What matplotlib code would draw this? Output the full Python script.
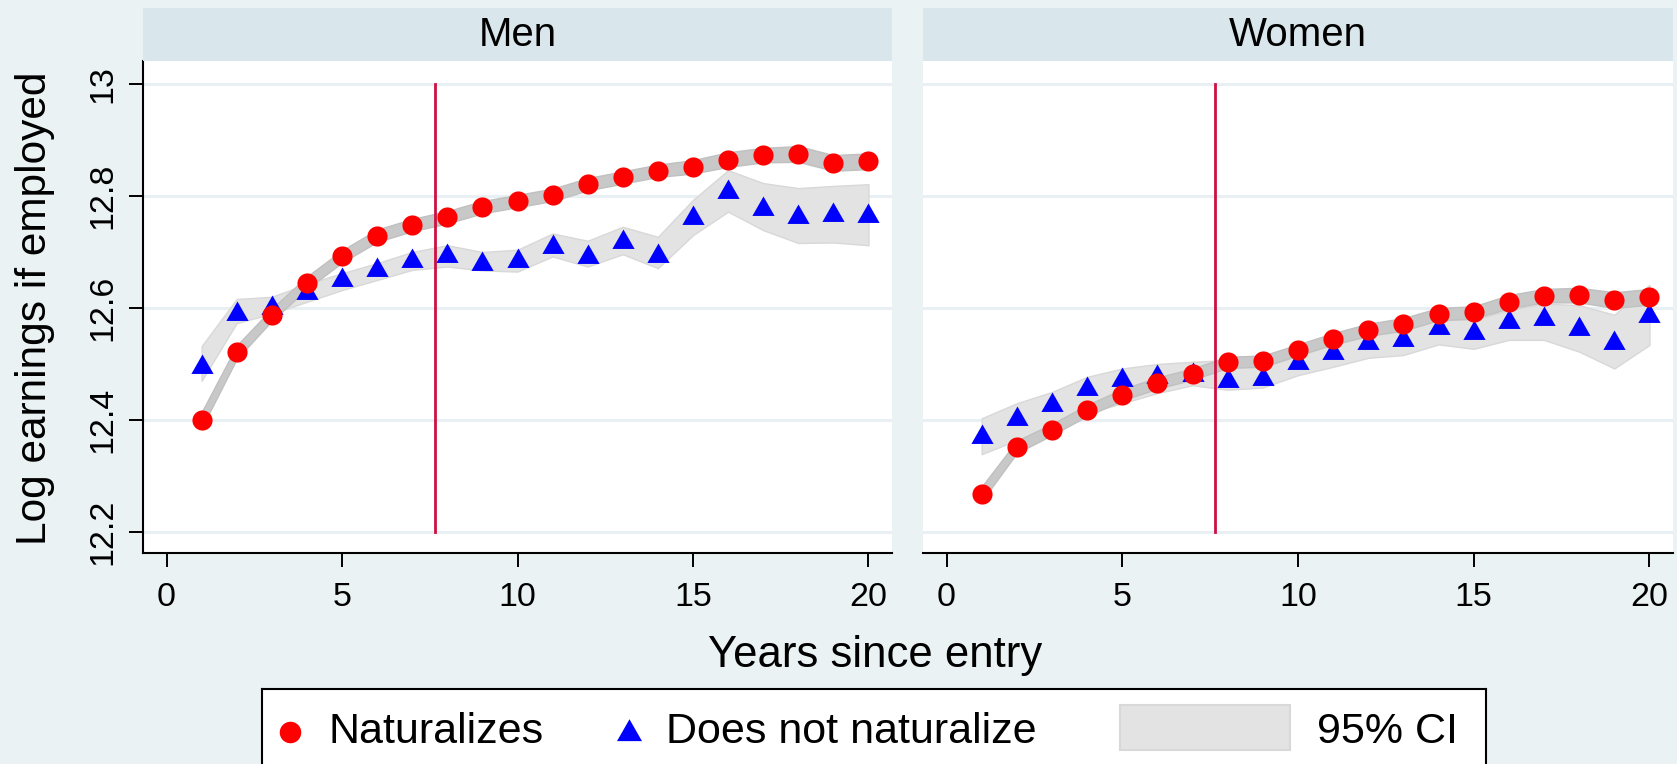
import numpy as np
import matplotlib
matplotlib.use("Agg")
from matplotlib import pyplot as plt
from matplotlib.patches import Rectangle

plt.rcParams['font.family'] = ['Liberation Sans', 'DejaVu Sans']

# years since entry
years = np.arange(1, 21)

# Men: log earnings if employed
men_nat = [12.400, 12.521, 12.588, 12.645, 12.692, 12.729, 12.748, 12.762, 12.780, 12.791,
           12.802, 12.821, 12.833, 12.845, 12.852, 12.865, 12.873, 12.875, 12.859, 12.862]
men_nat_lo = [12.386, 12.509, 12.577, 12.634, 12.681, 12.718, 12.737, 12.751, 12.769, 12.780,
              12.791, 12.810, 12.822, 12.834, 12.840, 12.852, 12.860, 12.861, 12.845, 12.848]
men_nat_hi = [12.414, 12.533, 12.599, 12.656, 12.703, 12.740, 12.759, 12.773, 12.791, 12.802,
              12.813, 12.832, 12.844, 12.856, 12.864, 12.878, 12.886, 12.889, 12.873, 12.876]
men_non = [12.500, 12.595, 12.605, 12.632, 12.656, 12.673, 12.690, 12.699, 12.684, 12.689,
           12.714, 12.697, 12.724, 12.699, 12.766, 12.812, 12.782, 12.768, 12.771, 12.770]
men_non_lo = [12.470, 12.573, 12.590, 12.611, 12.632, 12.650, 12.668, 12.674, 12.667, 12.665,
              12.692, 12.674, 12.696, 12.671, 12.730, 12.772, 12.739, 12.716, 12.717, 12.712]
men_non_hi = [12.532, 12.616, 12.620, 12.643, 12.662, 12.680, 12.700, 12.712, 12.700, 12.704,
              12.733, 12.720, 12.745, 12.727, 12.793, 12.846, 12.823, 12.814, 12.818, 12.821]

# Women
wom_nat = [12.268, 12.352, 12.383, 12.417, 12.445, 12.466, 12.482, 12.503, 12.505, 12.525,
           12.545, 12.561, 12.571, 12.589, 12.592, 12.611, 12.622, 12.623, 12.614, 12.620]
wom_nat_lo = [12.255, 12.341, 12.373, 12.407, 12.435, 12.456, 12.472, 12.493, 12.495, 12.515,
              12.535, 12.550, 12.560, 12.578, 12.581, 12.599, 12.610, 12.610, 12.600, 12.606]
wom_nat_hi = [12.281, 12.363, 12.393, 12.427, 12.455, 12.476, 12.492, 12.513, 12.515, 12.535,
              12.555, 12.572, 12.582, 12.600, 12.603, 12.623, 12.634, 12.636, 12.628, 12.634]
wom_non = [12.375, 12.408, 12.433, 12.460, 12.476, 12.482, 12.486, 12.475, 12.479, 12.507,
           12.525, 12.542, 12.548, 12.570, 12.561, 12.580, 12.585, 12.568, 12.542, 12.591]
wom_non_lo = [12.339, 12.364, 12.388, 12.412, 12.430, 12.448, 12.462, 12.454, 12.458, 12.480,
              12.495, 12.511, 12.516, 12.535, 12.527, 12.543, 12.543, 12.522, 12.492, 12.534]
wom_non_hi = [12.403, 12.430, 12.450, 12.477, 12.492, 12.500, 12.504, 12.507, 12.504, 12.519,
              12.534, 12.552, 12.558, 12.581, 12.579, 12.596, 12.608, 12.605, 12.588, 12.641]

# average years before naturalization
nat_year = 7.65

y_ticks = [12.2, 12.4, 12.6, 12.8, 13.0]
y_ticklabels = ['12.2', '12.4', '12.6', '12.8', '13']
x_ticks = [0, 5, 10, 15, 20]

bg = '#EAF2F3'
strip_col = '#D9E6EB'
grid_col = '#E8F0F3'
band_light = '#E3E3E3'
band_dark = '#C8C8C8'
vline_col = '#CC1040'

W, H = 1677, 764
fig = plt.figure(figsize=(W / 100, H / 100), dpi=100, facecolor=bg)

# triangle marker, a bit wider than tall
tri = [(-1, -0.85), (1, -0.85), (0, 0.9), (-1, -0.85)]

panels = [
    ("Men", 143, 892, men_nat, men_nat_lo, men_nat_hi, men_non, men_non_lo, men_non_hi),
    ("Women", 923, 1673, wom_nat, wom_nat_lo, wom_nat_hi, wom_non, wom_non_lo, wom_non_hi),
]

top_px, bot_px = 61, 553
for i, (title, x0, x1, nat, nat_lo, nat_hi, non, non_lo, non_hi) in enumerate(panels):
    ax = fig.add_axes([x0 / W, 1 - bot_px / H, (x1 - x0) / W, (bot_px - top_px) / H])
    ax.set_facecolor('white')
    ax.set_xlim(-0.67, 20.67)
    ax.set_ylim(12.1625, 13.041)

    ax.fill_between(years, non_lo, non_hi, color=band_light, ec='#D8D8D8', lw=1, zorder=2)
    ax.fill_between(years, nat_lo, nat_hi, color=band_dark, ec='#C0C0C0', lw=1, zorder=3)
    ax.plot([nat_year, nat_year], [12.2, 13.0], color=vline_col, lw=2, zorder=4)
    ax.plot(years, non, ls='none', marker=tri, ms=16, color='#0000FF', mew=0, zorder=5)
    ax.plot(years, nat, ls='none', marker='o', ms=14.5, color='#FF0000', mew=0, zorder=6)

    ax.set_yticks(y_ticks)
    ax.set_xticks(x_ticks)
    ax.yaxis.grid(True, color=grid_col, lw=2.2)
    ax.set_axisbelow(True)
    for s in ['top', 'right']:
        ax.spines[s].set_visible(False)
    ax.spines['bottom'].set_linewidth(1.5)
    ax.spines['left'].set_linewidth(1.5)
    ax.tick_params(axis='x', direction='out', length=10, width=1.4, labelsize=24.5, pad=11)
    if i == 0:
        ax.set_yticklabels(y_ticklabels)
        ax.tick_params(axis='y', direction='out', length=10, width=1.4, labelsize=24.5,
                       labelrotation=90, pad=8)
        for lab in ax.get_yticklabels():
            lab.set_va('center')
    else:
        ax.spines['left'].set_visible(False)
        ax.tick_params(axis='y', left=False, labelleft=False)

    # panel strip
    sx = fig.add_axes([x0 / W, 1 - top_px / H, (x1 - x0) / W, 53 / H])
    sx.set_facecolor(strip_col)
    sx.set_xticks([])
    sx.set_yticks([])
    for s in sx.spines.values():
        s.set_visible(False)
    sx.text(0.5, 0.29, title, transform=sx.transAxes, ha='center', va='baseline', fontsize=29)

fig.text(35 / W, 1 - 308 / H, "Log earnings if employed", rotation=90,
         ha='center', va='center', fontsize=30.5)
fig.text(875 / W, 1 - 667 / H, "Years since entry", ha='center', va='baseline', fontsize=31.5)

# legend box, running off the bottom edge
lx0, lx1, ltop, lbot = 262, 1486, 689, 802
lg = fig.add_axes([lx0 / W, 1 - lbot / H, (lx1 - lx0) / W, (lbot - ltop) / H])
lg.set_xlim(0, lx1 - lx0)
lg.set_ylim(0, lbot - ltop)
lg.set_facecolor('white')
lg.set_xticks([])
lg.set_yticks([])
for s in lg.spines.values():
    s.set_linewidth(1.5)
    s.set_color('black')
row = lbot - 732
lg.plot([28], [row], ls='none', marker='o', ms=15.5, color='#FF0000', mew=0)
lg.text(67, row, "Naturalizes", va='center', ha='left', fontsize=31)
lg.plot([367], [row + 2], ls='none', marker=tri, ms=18, color='#0000FF', mew=0)
lg.text(404, row, "Does not naturalize", va='center', ha='left', fontsize=31)
lg.add_patch(Rectangle((858, lbot - 750), 170, 45, facecolor=band_light, edgecolor='#D8D8D8', lw=1.5))
lg.text(1055, row, "95% CI", va='center', ha='left', fontsize=31)

fig.savefig("out.png", dpi=100, facecolor=bg)
